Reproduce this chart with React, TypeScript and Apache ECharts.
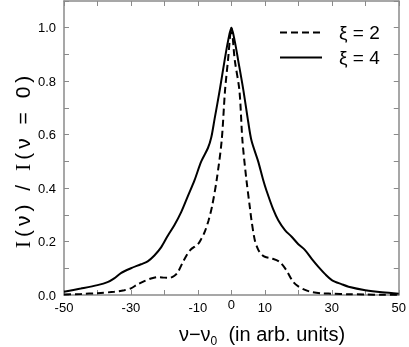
import React, { useEffect, useRef } from "react";
import * as echarts from "echarts";

// ξ = 2 (dashed)
const xi2X = [-50, -45, -40, -35, -32, -30, -28, -26, -24, -22, -20, -18.5, -17, -16, -14.2, -12.3, -10, -9, -8, -6.8, -5.8, -4.4, -2.9, -1.9, -1, 0, 1, 2.4, 3.3, 4.5, 5.5, 6, 7, 8, 9, 10, 12, 14.4, 16.4, 18.4, 20, 22, 24, 27, 30, 35, 40, 45, 50];
const xi2Y = [0.002, 0.004, 0.007, 0.012, 0.018, 0.025, 0.04, 0.052, 0.062, 0.067, 0.065, 0.064, 0.072, 0.085, 0.13, 0.168, 0.19, 0.21, 0.235, 0.28, 0.33, 0.43, 0.578, 0.765, 0.88, 1.0, 0.88, 0.765, 0.578, 0.43, 0.33, 0.28, 0.205, 0.17, 0.152, 0.143, 0.137, 0.124, 0.093, 0.05, 0.032, 0.019, 0.011, 0.006, 0.005, 0.003, 0.002, 0.001, 0.001];

// ξ = 4 (solid)
const xi4X = [-50, -45, -40, -37, -35, -33, -30, -27, -25, -23, -21, -19, -17, -15, -13, -11, -9, -7, -6, -5, -3.5, -2, -1, 0, 1, 2, 3.6, 5, 6, 8, 9.5, 10.5, 12.5, 14, 16, 18, 20, 22, 24, 26, 28, 30, 33, 35, 40, 45, 50];
const xi4Y = [0.012, 0.024, 0.037, 0.048, 0.062, 0.082, 0.1, 0.115, 0.126, 0.148, 0.178, 0.222, 0.262, 0.31, 0.37, 0.43, 0.5, 0.55, 0.59, 0.66, 0.765, 0.88, 0.95, 1.0, 0.95, 0.88, 0.765, 0.65, 0.578, 0.5, 0.43, 0.39, 0.32, 0.28, 0.243, 0.218, 0.19, 0.168, 0.135, 0.105, 0.078, 0.056, 0.04, 0.031, 0.018, 0.01, 0.005];

const seriesNames = ["ξ = 2", "ξ = 4"];
const xTickLabels = [-50, -30, -10, 0, 10, 30, 50];
const yTickLabels = [0, 0.2, 0.4, 0.6, 0.8, 1.0];
const yTitle = "I(ν) / I(ν = 0)";
const xTitle = "ν−ν{sub|0}  (in arb. units)";

export default function App() {
  const ref = useRef<HTMLDivElement>(null);
  useEffect(() => {
    const chart = echarts.init(ref.current!, null, { renderer: "svg" });
    const zip = (xs: number[], ys: number[]) => xs.map((x, i) => [x, ys[i]]);
    const axisColor = "#8a8a8a";
    const font = "'Liberation Sans', Arial, sans-serif";
    const serif = "'Liberation Serif', 'DejaVu Serif', serif";
    // spaced-out y title: each character its own rich token
    const yTitleRich = Array.from(yTitle)
      .map((ch) => (ch === "I" ? "{s|I}" : ch === " " ? "{w| }" : "{c|" + ch + "}"))
      .join("");
    const xBase: any = {
      type: "value",
      min: -50,
      max: 50,
      interval: 10,
      splitLine: { show: false },
      axisLine: { onZero: false, lineStyle: { color: axisColor, width: 1.5 } },
      axisTick: { inside: true, length: 5, lineStyle: { color: axisColor, width: 1 } },
    };
    const yBase: any = {
      type: "value",
      min: 0,
      max: 1.1,
      interval: 0.1,
      splitLine: { show: false },
      axisLine: { onZero: false, lineStyle: { color: axisColor, width: 1.5 } },
      axisTick: { inside: true, length: 5, lineStyle: { color: axisColor, width: 1 } },
    };
    chart.setOption({
      animation: false,
      grid: { left: 64, right: 7, top: 1, bottom: 52 },
      xAxis: [
        {
          ...xBase,
          position: "bottom",
          axisLabel: {
            margin: 3,
            color: "#000",
            fontFamily: font,
            fontSize: 13,
            formatter: (v: number) => {
              const r = Math.round(v);
              if (!xTickLabels.includes(r)) return "";
              return r === 0 ? "{z|0}" : "{n|" + r + "}";
            },
            rich: {
              n: { padding: [3, 0, 0, 0], fontSize: 13, fontFamily: font, color: "#000" },
              z: { fontSize: 13, fontFamily: font, color: "#000" },
            },
          },
        },
        { ...xBase, position: "top", axisLabel: { show: false } },
      ],
      yAxis: [
        {
          ...yBase,
          position: "left",
          axisLabel: {
            margin: 8,
            color: "#000",
            fontFamily: font,
            fontSize: 13,
            formatter: (v: number) => {
              const r = Math.round(v * 10) / 10;
              return yTickLabels.some((t) => Math.abs(t - r) < 1e-6) ? r.toFixed(1) : "";
            },
          },
        },
        { ...yBase, position: "right", axisLabel: { show: false } },
      ],
      legend: {
        data: seriesNames,
        orient: "vertical",
        left: 274,
        top: 18,
        itemWidth: 42,
        itemHeight: 14,
        itemGap: 6,
        itemStyle: { opacity: 0 },
        textStyle: { fontSize: 19, fontFamily: font, color: "#000", padding: [0, 0, 0, 12] },
      },
      series: [
        {
          name: seriesNames[0],
          type: "line",
          data: zip(xi2X, xi2Y),
          symbol: "none",
          smooth: 0.3,
          lineStyle: { color: "#000", width: 2, type: [7, 4] },
          itemStyle: { color: "#000" },
        },
        {
          name: seriesNames[1],
          type: "line",
          data: zip(xi4X, xi4Y),
          symbol: "none",
          smooth: 0.3,
          lineStyle: { color: "#000", width: 2, type: "solid" },
          itemStyle: { color: "#000" },
        },
      ],
      graphic: [
        {
          type: "text",
          x: 22,
          y: 162,
          rotation: Math.PI / 2,
          style: {
            text: yTitleRich,
            fontSize: 21,
            fontFamily: font,
            fill: "#000",
            align: "center",
            verticalAlign: "middle",
            rich: {
              s: { fontSize: 22, fontFamily: serif, fill: "#000", padding: [0, 2, 0, 2] },
              c: { fontSize: 21, fontFamily: font, fill: "#000", padding: [0, 2, 0, 2] },
              w: { fontSize: 21, fontFamily: font, fill: "#000", padding: [0, 2, 0, 2] },
            },
          },
        },
        {
          type: "text",
          x: 262,
          y: 334,
          style: {
            text: xTitle,
            fontSize: 20,
            fontFamily: font,
            fill: "#000",
            align: "center",
            verticalAlign: "middle",
            rich: {
              sub: { fontSize: 12, fontFamily: font, fill: "#000", padding: [14, 0, 0, 0] },
            },
          },
        },
      ],
    });
    return () => chart.dispose();
  }, []);
  return <div ref={ref} style={{ position: "fixed", left: 0, top: 0, width: 409, height: 347 }} />;
}
